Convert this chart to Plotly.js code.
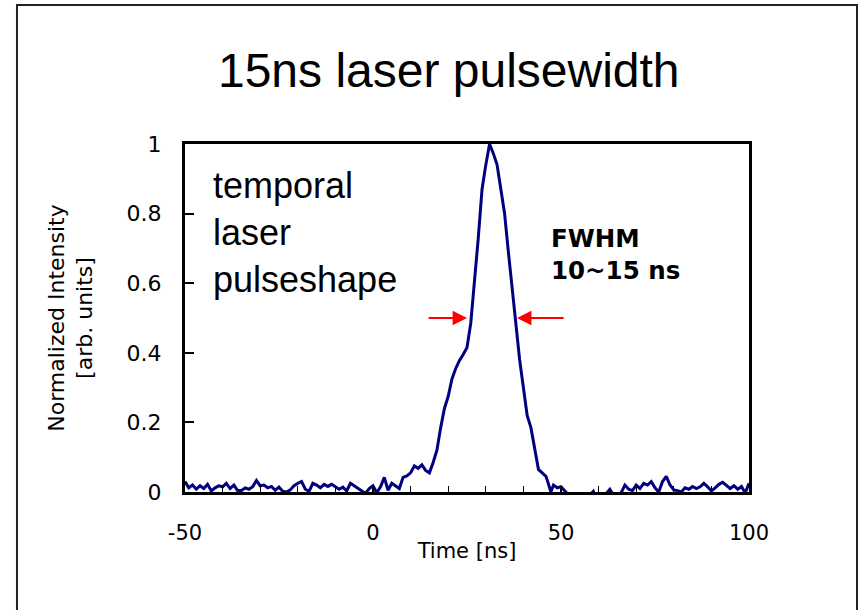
<!DOCTYPE html>
<html>
<head>
<meta charset="utf-8">
<script src="https://cdn.plot.ly/plotly-3.0.1.min.js"></script>
<style>
  html, body { margin: 0; padding: 0; background: #ffffff; }
  #chart { width: 863px; height: 610px; }
</style>
</head>
<body>
<div id="chart"></div>
<script>
// Time axis [ns]
var timeNs = [
  -50, -49, -48, -47, -46, -45, -44, -43, -42, -41,
  -40, -39, -38, -37, -36, -35, -34, -33, -32, -31,
  -30, -29, -28, -27, -26, -25, -24, -23, -22, -21,
  -20, -19, -18, -17, -16, -15, -14, -13, -12, -11,
  -10, -9, -8, -7, -6, -5, -4, -3, -2, -1,
  0, 1, 2, 3, 4, 5, 6, 7, 8, 9,
  10, 11, 12, 13, 14, 15, 16, 17, 18, 19,
  20, 21, 22, 23, 24, 25, 26, 27, 28, 28.5,
  29, 30, 31, 32, 33, 34, 35, 36, 37, 38,
  39, 40, 41, 42, 43, 44, 45, 46, 46.6, 47.3,
  48, 49, 50, 51, 52, 53, 54, 55, 56, 57,
  58, 58.6, 59, 60, 61, 62, 63, 64, 65, 66,
  67, 68, 69, 70, 71, 72, 73, 74, 75, 76,
  77, 78, 79, 80, 81, 82, 83, 84, 85, 86,
  87, 88, 89, 90, 91, 92, 93, 94, 95, 96,
  97, 98, 99, 100
];
// Normalized intensity [arb. units]
var intensity = [
  0.030, 0.012, 0.020, 0.008, 0.018, 0.010, 0.022, 0.003, 0.012, 0.018,
  0.015, 0.025, 0.010, 0.020, 0.004, 0.004, 0.012, 0.008, 0.015, 0.033,
  0.018, 0.020, 0.012, 0.016, 0.005, 0.014, 0.002, 0.000, 0.006, 0.018,
  0.025, 0.030, 0.008, 0.002, 0.025, 0.020, 0.012, 0.022, 0.016, 0.022,
  0.015, 0.008, 0.014, 0.003, 0.025, 0.018, 0.010, 0.002, -0.004, 0.010,
  0.018, -0.002, 0.015, 0.042, 0.005, 0.025, 0.018, 0.010, 0.042, 0.046,
  0.055, 0.075, 0.068, 0.078, 0.062, 0.055, 0.085, 0.120, 0.185, 0.240,
  0.275, 0.325, 0.355, 0.378, 0.395, 0.415, 0.485, 0.600, 0.730, 0.800,
  0.870, 0.940, 1.000, 0.973, 0.940, 0.870, 0.800, 0.690, 0.580, 0.470,
  0.380, 0.300, 0.220, 0.185, 0.130, 0.065, 0.055, 0.045, 0.025, 0.000,
  0.020, 0.012, 0.015, 0.002, -0.010, -0.020, -0.015, -0.020, -0.010, -0.015,
  -0.005, 0.002, -0.010, -0.020, -0.010, -0.005, 0.008, -0.010, -0.008, -0.002,
  0.020, 0.008, 0.004, 0.020, 0.010, 0.025, 0.020, 0.030, 0.012, 0.000,
  0.030, 0.045, 0.020, 0.006, 0.004, 0.000, 0.012, 0.008, 0.016, 0.010,
  0.015, 0.025, 0.015, 0.003, 0.012, 0.022, 0.028, 0.020, 0.010, 0.018,
  0.008, 0.016, -0.003, 0.025
];
var xTickVals = [-50, 0, 50, 100];
var xTickText = ['-50', '0', '50', '100'];
var yTickVals = [0, 0.2, 0.4, 0.6, 0.8, 1];
var yTickText = ['0', '0.2', '0.4', '0.6', '0.8', '1'];
var fwhmLevel = 0.5;
var fwhmLeft = [14.4, 25.0];   // arrow tail, tip
var fwhmRight = [51.1, 38.3];  // arrow tail, tip

var traces = [{
  x: timeNs,
  y: intensity,
  type: 'scatter',
  mode: 'lines',
  line: { color: '#000080', width: 3 },
  hoverinfo: 'x+y',
  showlegend: false
}];

var layout = {
  width: 863,
  height: 610,
  paper_bgcolor: '#ffffff',
  plot_bgcolor: '#ffffff',
  margin: { l: 185, r: 114, t: 144, b: 118 },
  showlegend: false,
  title: {
    text: '15ns laser pulsewidth',
    font: { family: 'Liberation Sans, Arial, sans-serif', size: 48, color: '#000000' },
    x: 0.52, xanchor: 'center', xref: 'container',
    y: 0.885, yanchor: 'middle', yref: 'container'
  },
  xaxis: {
    range: [-50, 100],
    tickvals: xTickVals,
    ticktext: xTickText,
    ticks: 'inside',
    ticklen: 6,
    tickwidth: 1.5,
    tickcolor: '#000000',
    minor: { dtick: 10, tick0: -50, ticks: 'inside', ticklen: 6, tickwidth: 1.2, tickcolor: '#000000' },
    showline: true,
    mirror: true,
    linecolor: '#000000',
    linewidth: 3,
    showgrid: false,
    zeroline: false,
    ticklabelstandoff: 20,
    tickfont: { family: 'DejaVu Sans, sans-serif', size: 21, color: '#000000' },
    title: {
      text: 'Time [ns]',
      standoff: 0,
      font: { family: 'DejaVu Sans, sans-serif', size: 21, color: '#000000' }
    }
  },
  yaxis: {
    range: [0, 1],
    tickvals: yTickVals,
    ticktext: yTickText,
    ticks: 'inside',
    ticklen: 9,
    tickwidth: 1.5,
    tickcolor: '#000000',
    showline: true,
    mirror: true,
    linecolor: '#000000',
    linewidth: 3,
    showgrid: false,
    zeroline: false,
    ticklabelstandoff: 16,
    tickfont: { family: 'DejaVu Sans, sans-serif', size: 22, color: '#000000' },
    title: {
      text: 'Normalized Intensity<br>[arb. units]',
      standoff: 28,
      font: { family: 'DejaVu Sans, sans-serif', size: 22, color: '#000000' }
    }
  },
  shapes: [
    {
      type: 'rect', xref: 'paper', yref: 'paper',
      x0: -0.2979, x1: 1.1915, y0: -0.345, y1: 1.3994,
      line: { color: '#222222', width: 2 }, fillcolor: 'rgba(0,0,0,0)', layer: 'below'
    }
  ],
  annotations: [
    {
      text: 'temporal<br>laser<br>pulseshape',
      xref: 'paper', yref: 'paper', x: 0.046, y: 0.945,
      xanchor: 'left', yanchor: 'top', align: 'left', showarrow: false,
      font: { family: 'Liberation Sans, Arial, sans-serif', size: 36, color: '#000000' }
    },
    {
      text: 'FWHM<br>10~15 ns',
      xref: 'paper', yref: 'paper', x: 0.645, y: 0.775,
      xanchor: 'left', yanchor: 'top', align: 'left', showarrow: false,
      font: { family: 'DejaVu Sans, sans-serif', size: 24.5, color: '#000000', weight: 'bold' }
    },
    {
      text: '', xref: 'x', yref: 'y', axref: 'x', ayref: 'y',
      x: fwhmLeft[1], y: fwhmLevel, ax: fwhmLeft[0], ay: fwhmLevel,
      showarrow: true, arrowhead: 2, arrowsize: 1.6, arrowwidth: 1.8, arrowcolor: '#ff0000', standoff: 0
    },
    {
      text: '', xref: 'x', yref: 'y', axref: 'x', ayref: 'y',
      x: fwhmRight[1], y: fwhmLevel, ax: fwhmRight[0], ay: fwhmLevel,
      showarrow: true, arrowhead: 2, arrowsize: 1.6, arrowwidth: 1.8, arrowcolor: '#ff0000', standoff: 0
    }
  ]
};

Plotly.newPlot('chart', traces, layout, { displayModeBar: false, staticPlot: false });
</script>
</body>
</html>
